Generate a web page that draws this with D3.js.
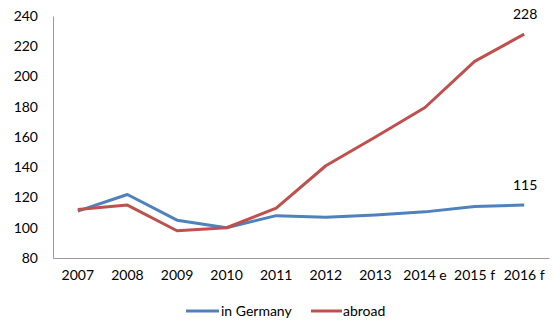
<!DOCTYPE html>
<html>
<head>
<meta charset="utf-8">
<script src="https://cdn.jsdelivr.net/npm/d3@7"></script>
<style>
  html, body { margin: 0; padding: 0; background: #fff; }
  svg text { font-family: Lato, "Open Sans", sans-serif; fill: #000; }
</style>
</head>
<body>
<svg id="chart" width="553" height="320"></svg>
<script>
// Index series, 2010 = 100
const categories = ["2007", "2008", "2009", "2010", "2011", "2012", "2013", "2014 e", "2015 f", "2016 f"];
const germany = [111, 122, 105, 100, 108, 107, 108.5, 110.5, 114, 115];
const abroad  = [112, 115, 98, 100, 113, 141, 160, 179.5, 210, 228];
const yTicks = [80, 100, 120, 140, 160, 180, 200, 220, 240];
const seriesNames = ["in Germany", "abroad"];
const seriesColors = ["#4F81BD", "#C0504D"];

const svg = d3.select("#chart");
const plotLeft = 53, plotRight = 549, plotTop = 16, plotBottom = 258;
const fontSize = "14px";

const x = d3.scaleBand().domain(categories).range([plotLeft, plotRight]);
const y = d3.scaleLinear().domain([80, 240]).range([plotBottom, plotTop]);

// y axis
const yAxis = svg.append("g")
  .attr("transform", `translate(${plotLeft},0)`)
  .call(d3.axisLeft(y).tickValues(yTicks).tickSize(0).tickPadding(15));
yAxis.select(".domain").attr("stroke", "#999").attr("stroke-width", 1);
yAxis.selectAll("text").style("font-size", fontSize).attr("fill", "#000");

// x axis
const xAxis = svg.append("g")
  .attr("transform", `translate(0,${plotBottom})`)
  .call(d3.axisBottom(x).tickSize(0).tickPadding(12));
xAxis.select(".domain").attr("stroke", "#999").attr("stroke-width", 1);
xAxis.selectAll("text").style("font-size", fontSize).attr("fill", "#000");

const line = d3.line()
  .x((d, i) => x(categories[i]) + x.bandwidth() / 2)
  .y(d => y(d));

[germany, abroad].forEach((s, k) => {
  svg.append("path")
    .datum(s)
    .attr("d", line)
    .attr("fill", "none")
    .attr("stroke", seriesColors[k])
    .attr("stroke-width", 3)
    .attr("stroke-linejoin", "round");
});

// end-value labels
[germany, abroad].forEach(s => {
  const last = s.length - 1;
  svg.append("text")
    .attr("x", x(categories[last]) + x.bandwidth() / 2 + 1)
    .attr("y", y(s[last]) - 15)
    .attr("text-anchor", "middle")
    .style("font-size", fontSize)
    .text(d3.format("d")(s[last]));
});

// legend
const legend = [
  { name: seriesNames[0], color: seriesColors[0], x1: 186, x2: 219, tx: 221 },
  { name: seriesNames[1], color: seriesColors[1], x1: 311, x2: 342, tx: 343 }
];
const ly = 311;
legend.forEach(l => {
  svg.append("line")
    .attr("x1", l.x1).attr("x2", l.x2).attr("y1", ly).attr("y2", ly)
    .attr("stroke", l.color).attr("stroke-width", 3);
  svg.append("text")
    .attr("x", l.tx).attr("y", ly)
    .attr("dy", "0.35em")
    .style("font-size", fontSize)
    .text(l.name);
});
</script>
</body>
</html>
